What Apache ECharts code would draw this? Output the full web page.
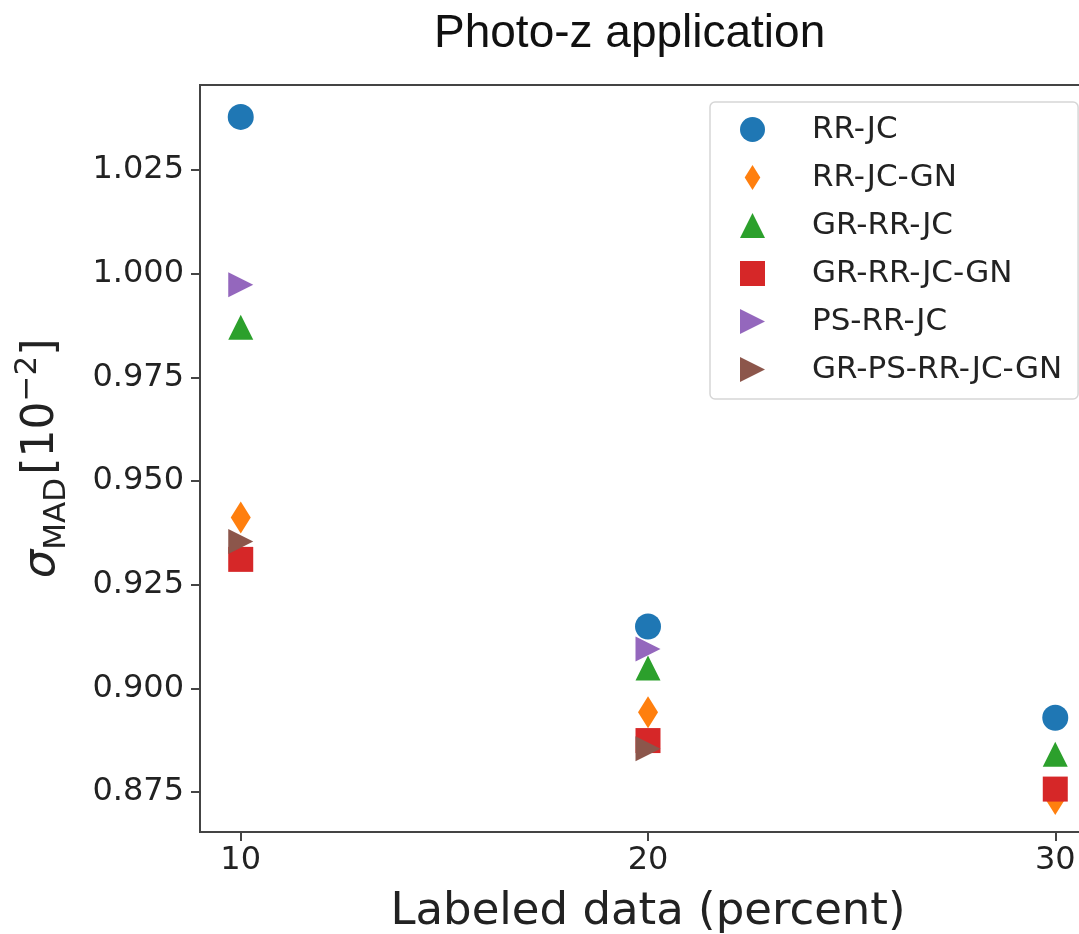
<!DOCTYPE html>
<html>
<head>
<meta charset="utf-8">
<script src="https://cdn.jsdelivr.net/npm/echarts@6/dist/echarts.min.js"></script>
<style>
  html, body { margin: 0; padding: 0; background: #fff; }
  #chart { width: 1079px; height: 934px; }
</style>
</head>
<body>
<div id="chart"></div>
<script>
//labeled data percentages (x)
const percents = [10, 20, 30];

//sigma_MAD [1e-2] per method
const rrJc = [1.0378, 0.9149, 0.8929];
const rrJcGn = [0.9412, 0.8942, 0.8733];
const grRrJc = [0.9871, 0.9049, 0.8841];
const grRrJcGn = [0.9311, 0.8874, 0.8757];
const psRrJc = [0.9973, 0.9095, null];
const grPsRrJcGn = [0.9354, 0.8854, null];

//tick values
const xTicks = [10, 20, 30];
const yTicks = [0.875, 0.9, 0.925, 0.95, 0.975, 1.0, 1.025];

const names = ["RR-JC", "RR-JC-GN", "GR-RR-JC", "GR-RR-JC-GN", "PS-RR-JC", "GR-PS-RR-JC-GN"];
const values = [rrJc, rrJcGn, grRrJc, grRrJcGn, psRrJc, grPsRrJcGn];
const colors = ["#1f77b4", "#ff7f0e", "#2ca02c", "#d62728", "#9467bd", "#8c564b"];

//marker shapes, matplotlib style o d ^ s > >
const rightTri = "path://M0,0L2,1L0,2Z";
const thinDiamond = "path://M1,0L2,1.6L1,3.2L0,1.6Z";
const symbols = ["circle", thinDiamond, "triangle", "rect", rightTri, rightTri];
const sizes = [26, [20, 32], [25, 25], 25, [25, 25], [25, 25]];

const font = "DejaVu Sans";
const chart = echarts.init(document.getElementById("chart"));

const series = names.map((name, i) => ({
    name: name,
    type: "scatter",
    symbol: symbols[i],
    symbolSize: sizes[i],
    itemStyle: { color: colors[i], opacity: 1 },
    data: percents.map((p, j) => values[i][j] == null ? null : [p, values[i][j]])
        .filter(d => d != null)
}));

const option = {
    animation: false,
    backgroundColor: "#fff",
    title: {
        text: "Photo-z application",
        left: 429,
        top: 6,
        textStyle: { fontFamily: "Liberation Sans", fontWeight: "normal", fontSize: 46, color: "#111" }
    },
    legend: {
        orient: "vertical",
        left: 710,
        top: 102,
        padding: [12, 16, 14, 30],
        itemWidth: 25,
        itemHeight: 25,
        itemGap: 17,
        borderColor: "#d6d6d6",
        borderWidth: 1.5,
        borderRadius: 5,
        backgroundColor: "#fff",
        data: names,
        textStyle: { fontFamily: font, fontSize: 31, color: "#222", lineHeight: 31, padding: [0, 0, 0, 42] }
    },
    grid: {
        left: 200,
        top: 85,
        width: 896,
        height: 747,
        show: true,
        borderColor: "#444",
        borderWidth: 2,
        containLabel: false,
        outerBoundsMode: "none"
    },
    xAxis: {
        type: "value",
        min: 9,
        max: 31,
        name: "Labeled data (percent)",
        nameLocation: "middle",
        nameGap: 58,
        nameTextStyle: { fontFamily: font, fontSize: 45, color: "#222" },
        splitLine: { show: false },
        axisLine: { show: true, lineStyle: { color: "#444", width: 2 } },
        axisTick: { show: true, customValues: xTicks, length: 9, lineStyle: { color: "#444", width: 2 } },
        axisLabel: { customValues: xTicks, margin: 13, fontFamily: font, fontSize: 32, color: "#222" }
    },
    yAxis: {
        type: "value",
        min: 0.86535,
        max: 1.0455,
        name: "{sig|σ}{sub|MAD} {br|[10}{sup|−2}{br|]}",
        nameLocation: "middle",
        nameRotate: 90,
        nameGap: 128,
        nameTextStyle: {
            rich: {
                sig: { fontFamily: font, fontStyle: "italic", fontSize: 45, color: "#222", lineHeight: 60, verticalAlign: "middle" },
                sub: { fontFamily: font, fontSize: 31, color: "#222", lineHeight: 60, verticalAlign: "bottom" },
                br: { fontFamily: font, fontSize: 44, color: "#222", lineHeight: 60, verticalAlign: "middle" },
                sup: { fontFamily: font, fontSize: 31, color: "#222", lineHeight: 60, verticalAlign: "top" }
            }
        },
        splitLine: { show: false },
        axisLine: { show: true, lineStyle: { color: "#444", width: 2 } },
        axisTick: { show: true, customValues: yTicks, length: 9, lineStyle: { color: "#444", width: 2 } },
        axisLabel: {
            customValues: yTicks,
            margin: 16,
            fontFamily: font,
            fontSize: 32,
            color: "#222",
            formatter: v => v.toFixed(3)
        }
    },
    series: series
};

chart.setOption(option);
</script>
</body>
</html>
